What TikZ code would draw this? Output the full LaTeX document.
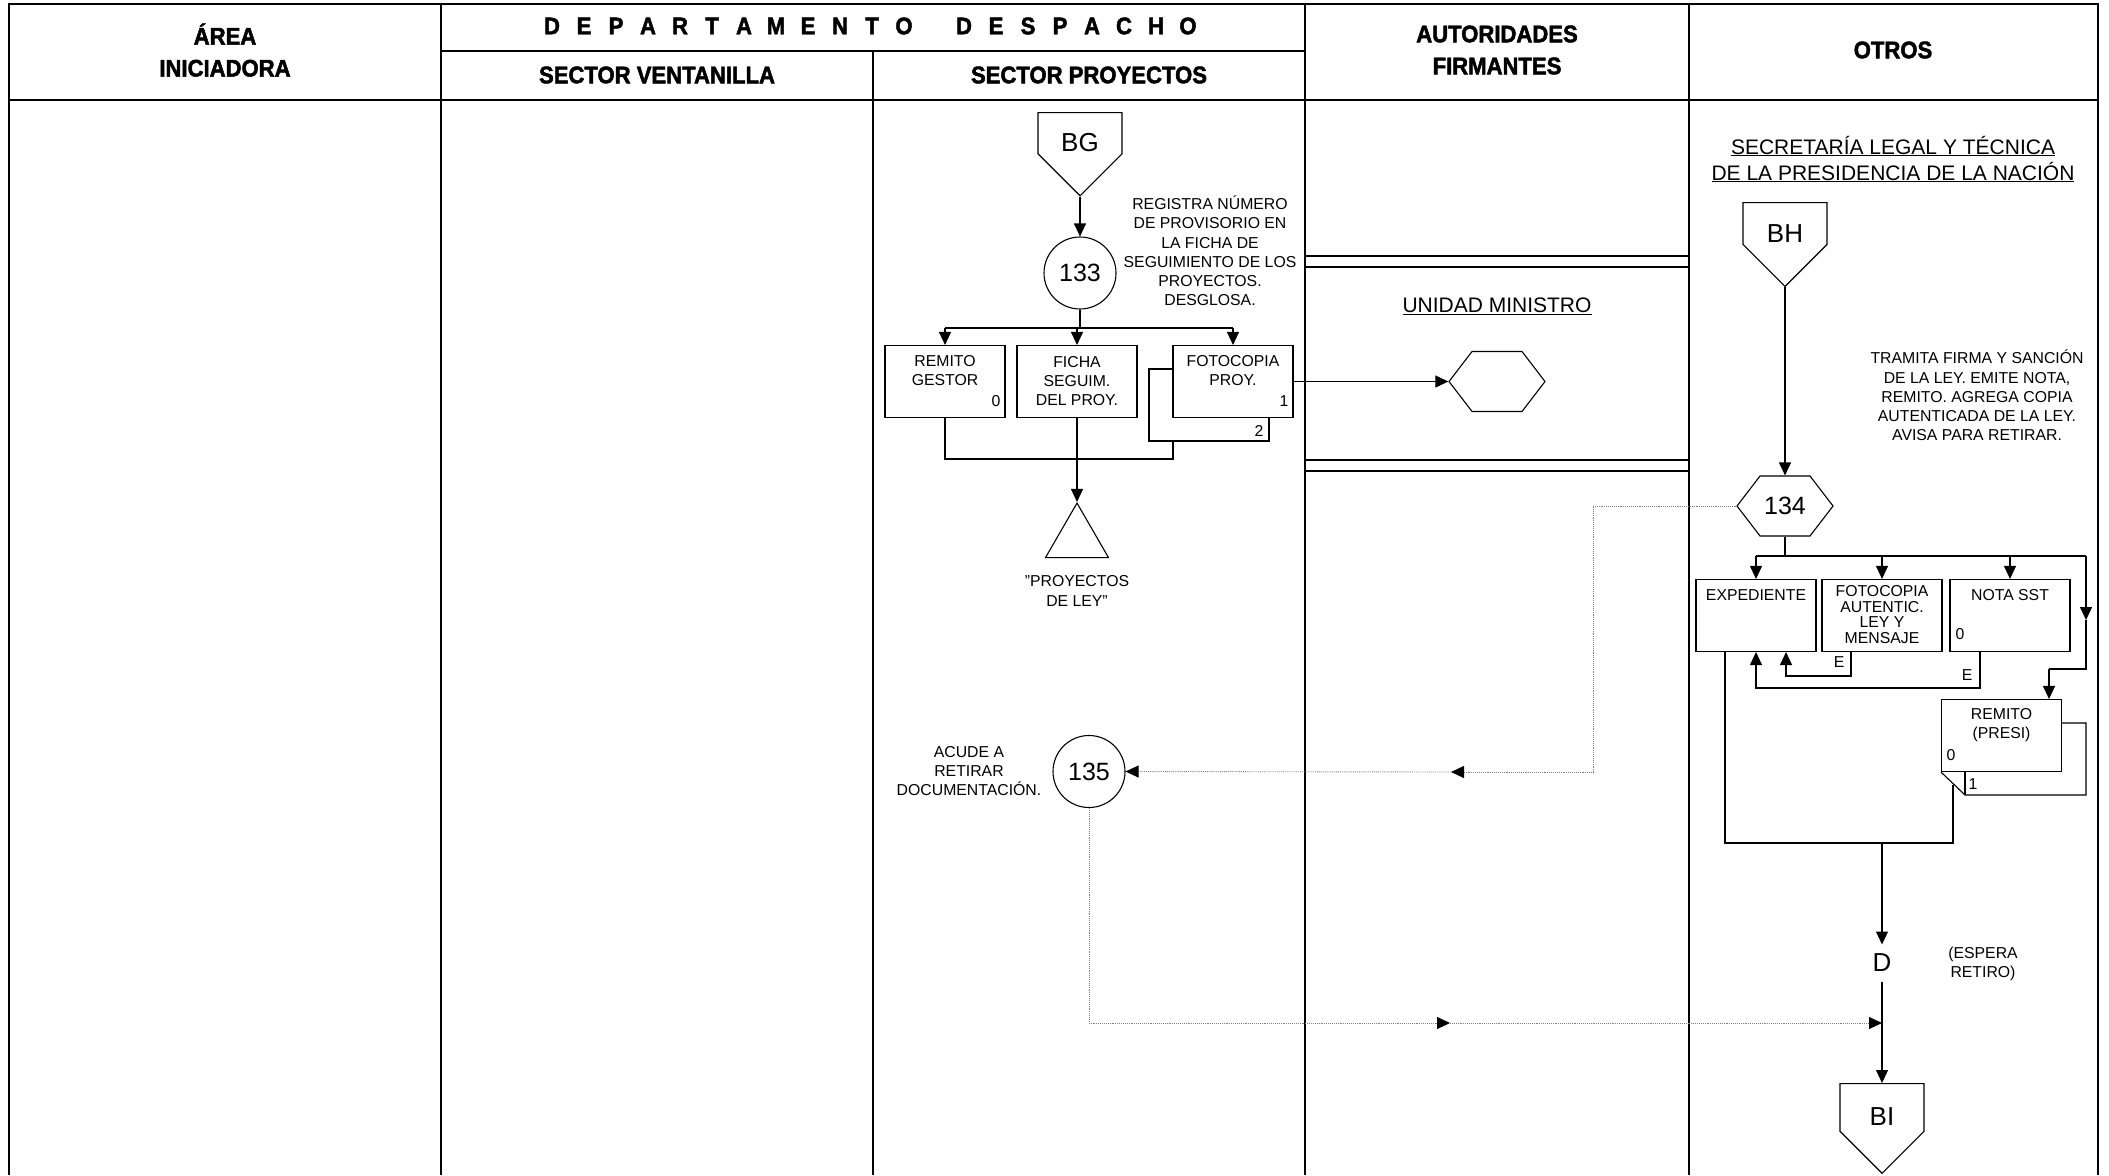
\documentclass[tikz,border=0pt]{standalone}
\usepackage{fontspec}
\setmainfont{Liberation Sans}
\newfontfamily\headfont{Liberation Sans}[FakeStretch=0.92,FakeBold=2]
\usetikzlibrary{arrows.meta,shapes.symbols,shapes.geometric}

\tikzset{
  hdr/.style={font=\headfont\bfseries\fontsize{24}{32}\selectfont, align=center, inner sep=0},
  txt/.style={font=\fontsize{15.8}{19.2}\selectfont, align=center, inner sep=0},
  numlbl/.style={font=\fontsize{15.8}{19}\selectfont, inner sep=0},
  doc/.style={draw, fill=white, minimum width=120pt, minimum height=72pt, inner sep=0},
  proc/.style={draw, circle, minimum size=72pt, inner sep=0, font=\fontsize{25}{30}\selectfont},
  hexa/.style={draw, signal, signal to=east and west, signal pointer angle=105, minimum width=96pt, minimum height=60pt, inner sep=0, font=\fontsize{25}{30}\selectfont},
  offpage/.style={draw, signal, signal to=south, signal pointer angle=90, minimum width=84pt, minimum height=60pt, inner sep=0, text height=37pt, text depth=0pt, font=\fontsize{26}{30}\selectfont},
  dotline/.style={draw=gray, densely dotted, line width=0.9pt, >={Triangle[length=13pt,width=12pt,color=black]}}
}

\begin{document}
\begin{tikzpicture}[x=1pt,y=-1pt,line width=1.1pt,>={Triangle[length=13pt,width=12pt]}]
\useasboundingbox (0,0) rectangle (2109,1175);
% encabezado
\draw[line width=1.6pt] (9,1175) -- (9,4) -- (2098,4) -- (2098,1175);
\draw[line width=1.6pt] (9,100) -- (2098,100);
\draw (441,51) -- (1305,51);
\foreach \x in {441,1305,1689} \draw[line width=1.4pt] (\x,4) -- (\x,1175);
\draw[line width=1.4pt] (873,51) -- (873,1175);
\foreach \y in {256,267,460,471} \draw (1305,\y) -- (1689,\y);

\node[hdr] (area) at (225,50) {ÁREA\\INICIADORA};
\foreach \c [count=\i] in {D,E,P,A,R,T,A,M,E,N,T,O}
  \node[hdr] (dep\i) at ({552+(\i-1)*32},26) {\c};
\foreach \c [count=\i] in {D,E,S,P,A,C,H,O}
  \node[hdr] (desp\i) at ({964+(\i-1)*32},26) {\c};
\node[hdr] (vent) at (657,75) {SECTOR VENTANILLA};
\node[hdr] (proy) at (1089,75) {SECTOR PROYECTOS};
\node[hdr] (aut) at (1497,50) {AUTORIDADES\\FIRMANTES};
\node[hdr] (otros) at (1893,50) {OTROS};

% sector proyectos
\node[offpage,anchor=north] (bg) at (1080,112) {BG};
\node[proc] (c133) at (1080,273) {133};
\node[txt] (d133) at (1210,251) {REGISTRA NÚMERO\\DE PROVISORIO EN\\LA FICHA DE\\SEGUIMIENTO DE LOS\\PROYECTOS.\\DESGLOSA.};
\node[doc] (rg) at (945,381.5) {};
\node[doc] (fs) at (1077,381.5) {};
\node[doc] (fp2) at (1209,405) {};
\node[doc] (fp) at (1233,381.5) {};
\node[txt] (rgt) at (945,370.5) {REMITO\\GESTOR};
\node[numlbl,anchor=east] (rg0) at (1001,401) {0};
\node[txt] (fst) at (1077,381) {FICHA\\SEGUIM.\\DEL PROY.};
\node[txt] (fpt) at (1233,370.5) {FOTOCOPIA\\PROY.};
\node[numlbl,anchor=east] (fp1) at (1289,401) {1};
\node[numlbl,anchor=east] (fp2n) at (1264,431) {2};
\node[draw, regular polygon, regular polygon sides=3, minimum size=72.7pt, inner sep=0] (arch) at (1077,539.4) {};
\node[txt] (archt) at (1077,591) {"PROYECTOS\\DE LEY"};

\coordinate (r133) at (1080,328);
\coordinate (m133) at (1173,459);
\draw[->] (bg.south) -- (c133.north);
\draw (c133.south) -- (r133);
\draw (rg.north |- r133) -- (fp.north |- r133);
\draw[->] (rg.north |- r133) -- (rg.north);
\draw[->] (fs.north |- r133) -- (fs.north);
\draw[->] (fp.north |- r133) -- (fp.north);
\draw (rg.south) |- (m133) -- (m133 |- fp2.south);
\draw[->] (fs.south) -- (arch.north);

% autoridades
\node[font=\fontsize{21}{26}\selectfont] (um) at (1497,306) {\underline{UNIDAD MINISTRO}};
\node[hexa] (hum) at (1497,381.5) {};
\draw[->] (fp.east) -- (hum.west);

% otros
\node[font=\fontsize{21}{26}\selectfont, align=center] (slyt) at (1893,159) {\underline{SECRETARÍA LEGAL Y TÉCNICA}\\\underline{DE LA PRESIDENCIA DE LA NACIÓN}};
\node[offpage,anchor=north] (bh) at (1785,202) {BH};
\node[txt] (d134) at (1977,395.5) {TRAMITA FIRMA Y SANCIÓN\\DE LA LEY. EMITE NOTA,\\REMITO. AGREGA COPIA\\AUTENTICADA DE LA LEY.\\AVISA PARA RETIRAR.};
\node[hexa] (h134) at (1785,506) {134};
\draw[->] (bh.south) -- (h134.north);

\node[doc] (exp) at (1756,615.5) {};
\node[doc] (fal) at (1882,615.5) {};
\node[doc] (nsst) at (2010,615.5) {};
\node[doc] (rp) at (2001.5,735.5) {};
\draw (rp.east |- 0,723) -- (2086,723) -- (2086,795) -- (1965,795) -- (rp.south west);
\draw (1965,772) -- (1965,795);
\node[txt] (expt) at (1756,595) {EXPEDIENTE};
\node[txt,font=\fontsize{15.8}{15.7}\selectfont] (falt) at (1882,614.5) {FOTOCOPIA\\AUTENTIC.\\LEY Y\\MENSAJE};
\node[txt] (nsstt) at (2010,595) {NOTA SST};
\node[numlbl,anchor=west] (nsst0) at (1955,634) {0};
\node[txt] (rpt) at (2001.5,725.5) {REMITO\\(PRESI)};
\node[numlbl,anchor=west] (rp0) at (1946,755) {0};
\node[numlbl,anchor=west] (rp1) at (1968,784) {1};

\coordinate (r134) at (1785,556);
\coordinate (e1) at (2086,556);
\coordinate (e2) at (2086,620);
\coordinate (e3) at (2086,669);
\coordinate (e4) at (2049,669);
\draw (h134.south) -- (r134);
\draw (exp.north |- r134) -- (e1);
\draw[->] (exp.north |- r134) -- (exp.north);
\draw[->] (fal.north |- r134) -- (fal.north);
\draw[->] (nsst.north |- r134) -- (nsst.north);
\draw[->] (e1) -- (e2);
\draw (e2) -- (e3) -- (e4);
\draw[->] (e4) -- (e4 |- rp.north);

\coordinate (f1) at (1851,676);
\coordinate (n1) at (1980,688);
\draw[->] (fal.south -| f1) -- (f1) -| ([xshift=30pt]exp.south);
\draw[->] (nsst.south -| n1) -- (n1) -| (exp.south);
\node[numlbl] (efal) at (1839,662) {E};
\node[numlbl] (ensst) at (1967,675) {E};

\coordinate (m1) at (1725,843);
\coordinate (m2) at (1953,843);
\coordinate (m3) at (1882,843);
\draw (m1 |- exp.south) -- (m1) -- (m2) -- (1953,785);
\node[font=\fontsize{26}{30}\selectfont, inner sep=9pt] (dd) at (1882,963) {D};
\node[txt] (esp) at (1983,963.5) {(ESPERA\\RETIRO)};
\node[offpage,anchor=north] (bi) at (1882,1083) {BI};
\draw[->] (m3) -- (dd.north);
\draw[->] (dd.south) -- (bi.north);

% retiro
\node[proc] (c135) at (1089,771.5) {135};
\node[txt] (d135) at (969,771) {ACUDE A\\RETIRAR\\DOCUMENTACIÓN.};
\coordinate (k1) at (1593,506);
\coordinate (k2) at (1593,772);
\coordinate (k3) at (1451,772);
\coordinate (k4) at (1089,1023);
\coordinate (k5) at (1450,1023);
\draw[dotline,->] (h134.west) -- (k1) -- (k2) -- (k3);
\draw[dotline,->] (k3) -- (c135.east);
\draw[dotline,->] (c135.south) -- (k4) -- (k5);
\draw[dotline,->] (k5) -- (k5 -| dd);
\end{tikzpicture}
\end{document}
